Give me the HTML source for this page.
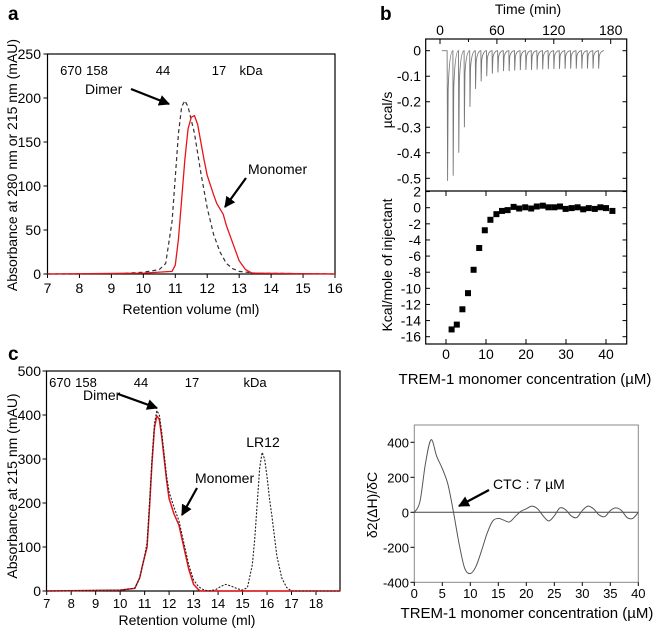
<!DOCTYPE html>
<html><head><meta charset="utf-8"><style>
body{margin:0;background:#fff;}
svg{display:block;font-family:"Liberation Sans",Arial,sans-serif;}
</style></head><body>
<svg id="fig" width="662" height="629" viewBox="0 0 662 629" xmlns="http://www.w3.org/2000/svg">
<defs><marker id="ah" viewBox="0 0 10 10" refX="9" refY="5" markerWidth="5" markerHeight="5" orient="auto"><path d="M0,0L10,5L0,10z" fill="#000"/></marker></defs>
<text x="8" y="20" font-size="19" font-weight="bold">a</text>
<text x="380" y="20" font-size="19" font-weight="bold">b</text>
<text x="8" y="360" font-size="19" font-weight="bold">c</text>
<g id="g"></g>
</svg>
<script>
// Panel a data
const aDimerX=[7,9,10,10.5,10.7,10.9,11.0,11.1,11.2,11.3,11.4,11.6,11.8,12.0,12.2,12.4,12.6,12.8,13.0,13.5,16];
const aDimerY=[0,0,2,5,12,60,110,160,190,197,190,160,115,75,45,25,12,6,3,1,0];
const aMonoX=[7,10,10.9,11.0,11.1,11.2,11.3,11.4,11.5,11.6,11.7,11.8,11.9,12.0,12.2,12.3,12.5,12.6,12.8,13.0,13.2,13.4,16];
const aMonoY=[0,1,3,10,40,85,130,165,178,180,170,150,130,112,90,80,68,55,35,15,5,1,0];
const aXTicks=[7,8,9,10,11,12,13,14,15,16];
const aYTicks=[0,50,100,150,200,250];
// Panel b data
const itcDepths=[-0.51,-0.49,-0.40,-0.30,-0.22,-0.15,-0.12,-0.10,-0.09,-0.085,-0.08,-0.08,-0.078,-0.076,-0.075,-0.075,-0.074,-0.073,-0.072,-0.072,-0.071,-0.071,-0.07,-0.07,-0.07,-0.07,-0.07,-0.07];
const itcStart=8, itcStep=5.9;
const bConc=[1.4,2.7,4.1,5.5,6.9,8.3,9.7,11.1,12.6,14.0,15.4,16.9,18.3,19.8,21.3,22.7,24.2,25.6,27.1,28.5,29.9,31.4,32.9,34.3,35.7,37.2,38.6,40.0,41.6];
const bHeat=[-15.1,-14.5,-12.6,-10.6,-7.7,-5.0,-2.8,-1.5,-0.8,-0.4,-0.3,0.1,-0.1,0.05,-0.1,0.15,0.25,0.05,0.05,0.15,-0.15,-0.05,0.05,-0.2,-0.05,-0.15,0.05,-0.05,-0.4];
const bTimeTicks=[0,60,120,180];
const bTopYTicks=[0,-0.1,-0.2,-0.3,-0.4,-0.5];
const bBotYTicks=[2,0,-2,-4,-6,-8,-10,-12,-14,-16];
const bConcTicks=[0,10,20,30,40];
// Panel c data
const cBlackX=[7,10,10.6,10.8,10.9,11.0,11.1,11.2,11.3,11.4,11.5,11.6,11.7,11.8,11.9,12.0,12.2,12.4,12.6,12.8,13.0,13.2,13.4,13.6,13.9,14.1,14.3,14.5,14.8,15.0,15.2,15.4,15.5,15.6,15.7,15.8,15.9,16.0,16.1,16.2,16.4,16.6,16.8,17.0,19];
const cBlackY=[0,2,6,30,55,80,110,200,300,380,410,400,360,310,260,225,190,160,110,60,25,10,3,0,3,10,15,12,5,2,8,60,120,200,280,315,300,260,210,170,80,30,8,0,0];
const cRedX=[7,10,10.6,10.8,10.9,11.0,11.1,11.2,11.3,11.4,11.5,11.6,11.7,11.8,11.9,12.0,12.2,12.4,12.6,12.8,13.0,13.2,13.3,19];
const cRedY=[0,2,6,30,55,78,100,190,290,370,398,390,350,300,250,210,175,150,100,50,15,3,0,0];
const cXTicks=[7,8,9,10,11,12,13,14,15,16,17,18];
const cYTicks=[0,100,200,300,400,500];
// Panel d data
const dX=[0,1,2,3,4,5,6,7,8,9,10,11,12,13,14,15,16,17,18,19,20,21,22,23,24,25,26,27,28,29,30,31,32,33,34,35,36,37,38,39,40];
const dY=[0,60,280,415,320,250,160,0,-180,-320,-350,-310,-220,-120,-50,-35,-45,-55,-25,5,20,35,20,-20,-50,-20,25,15,-20,-30,10,35,20,-15,-25,10,25,10,-30,-35,0];
const dXTicks=[0,5,10,15,20,25,30,35,40];
const dYTicks=[-400,-200,0,200,400];

const NS="http://www.w3.org/2000/svg";
const G=document.getElementById('g');
function el(tag,attrs,parent){const e=document.createElementNS(NS,tag);for(const k in attrs)e.setAttribute(k,attrs[k]);(parent||G).appendChild(e);return e;}
function txt(x,y,s,size,anchor,extra){const t=el('text',Object.assign({x:x,y:y,'font-size':size,'text-anchor':anchor||'middle'},extra||{}));t.textContent=s;return t;}
function lin(d0,d1,r0,r1){return v=>r0+(v-d0)/(d1-d0)*(r1-r0);}
function pathD(X,Y,sx,sy){return X.map((v,i)=>(i?'L':'M')+sx(v).toFixed(2)+','+sy(Y[i]).toFixed(2)).join('');}
function smoothD(X,Y,sx,sy){const P=X.map((v,i)=>[sx(v),sy(Y[i])]);let d='M'+P[0][0]+','+P[0][1];for(let i=0;i<P.length-1;i++){const p0=P[i-1]||P[i],p1=P[i],p2=P[i+1],p3=P[i+2]||P[i+1];d+='C'+(p1[0]+(p2[0]-p0[0])/6)+','+(p1[1]+(p2[1]-p0[1])/6)+' '+(p2[0]-(p3[0]-p1[0])/6)+','+(p2[1]-(p3[1]-p1[1])/6)+' '+p2[0]+','+p2[1];}return d;}
function arrow(x1,y1,x2,y2,name){const a=el('line',{x1,y1,x2,y2,stroke:'#000','stroke-width':2.2,'marker-end':'url(#ah)'});

}

// ---------- Panel a ----------
{const sx=lin(7,16,47.5,335),sy=lin(0,250,274,54);
const r=el('rect',{x:47.5,y:54,width:287.5,height:220,fill:'none',stroke:'#000','stroke-width':1.2});


aXTicks.forEach(v=>{el('line',{x1:sx(v),x2:sx(v),y1:274,y2:278,stroke:'#000'});const t=txt(sx(v),293,String(v),14);

});
aYTicks.forEach(v=>{el('line',{x1:43.5,x2:47.5,y1:sy(v),y2:sy(v),stroke:'#000'});const t=txt(41,sy(v)+5,String(v),14,'end');

});
let t=txt(191,314,'Retention volume (ml)',14);


t=txt(0,0,'Absorbance at 280 nm or 215 nm (mAU)',14,'middle',{transform:'translate(17,165) rotate(-90)'});


[['670',71],['158',97],['44',163],['17',219],['kDa',251]].forEach(k=>{const q=txt(k[1],75,k[0],13);

});
let p=el('path',{d:pathD(aDimerX,aDimerY,sx,sy),fill:'none',stroke:'#333','stroke-width':1.2,'stroke-dasharray':'4,3'});


p=el('path',{d:pathD(aMonoX,aMonoY,sx,sy),fill:'none',stroke:'#e8141b','stroke-width':1.3,'stroke-linejoin':'round'});


t=txt(85,94,'Dimer',14,'start');


arrow(131,89,169,104,'a-dimer-arrow');
t=txt(248,174,'Monomer',14,'start');


arrow(246,178,225,207,'a-monomer-arrow');}

// ---------- Panel b top ----------
{const sx=lin(0,180,440,610.7),sy=lin(0,-0.5,50.7,178.3);
const r=el('rect',{x:425.7,y:39,width:201,height:305,fill:'none',stroke:'#000','stroke-width':1.2});


el('line',{x1:425.7,x2:626.7,y1:191,y2:191,stroke:'#000','stroke-width':1.2});
bTimeTicks.forEach(v=>{el('line',{x1:sx(v),x2:sx(v),y1:39,y2:44,stroke:'#000'});const t=txt(sx(v),35,String(v),14);

});
for(let m=30;m<=180;m+=60)el('line',{x1:sx(m),x2:sx(m),y1:39,y2:42,stroke:'#000'});
bTopYTicks.forEach(v=>{el('line',{x1:425.7,x2:430,y1:sy(v),y2:sy(v),stroke:'#000'});el('line',{x1:622.5,x2:626.7,y1:sy(v),y2:sy(v),stroke:'#000'});const t=txt(421,sy(v)+5,String(v),14,'end');

});
let t=txt(528,14,'Time (min)',14);


t=txt(0,0,'µcal/s',14,'middle',{transform:'translate(392,110) rotate(-90)'});


let d='M'+sx(2)+','+sy(0)+'L'+sx(itcStart-0.5)+','+sy(0);
itcDepths.forEach((v,i)=>{const t0=itcStart+i*itcStep;d+='L'+sx(t0)+','+sy(v)+'L'+sx(t0+0.6)+','+sy(v*0.3)+'Q'+sx(t0+2)+','+sy(0)+' '+sx(t0+itcStep-0.3)+','+sy(0);});
const p=el('path',{d:d,fill:'none',stroke:'#777','stroke-width':0.9});

}

// ---------- Panel b bottom ----------
{const sx=lin(0,40,446,606),sy=lin(0,-16,207.7,336.7);
bBotYTicks.forEach(v=>{el('line',{x1:425.7,x2:430,y1:sy(v),y2:sy(v),stroke:'#000'});el('line',{x1:622.5,x2:626.7,y1:sy(v),y2:sy(v),stroke:'#000'});const t=txt(421,sy(v)+5,String(v),14,'end');

});
bConcTicks.forEach(v=>{el('line',{x1:sx(v),x2:sx(v),y1:339,y2:344,stroke:'#000'});el('line',{x1:sx(v),x2:sx(v),y1:191,y2:196,stroke:'#000'});const t=txt(sx(v),359,String(v),14);

});
bConc.forEach((c,i)=>{const q=el('rect',{x:sx(c)-3,y:sy(bHeat[i])-3,width:6,height:6,fill:'#000'});

});
let t=txt(0,0,'Kcal/mole of injectant',14,'middle',{transform:'translate(392,265) rotate(-90)'});


t=txt(525,384,'TREM-1 monomer concentration (µM)',15);

}

// ---------- Panel c ----------
{const sx=lin(7,18,46.7,316),sy=lin(0,500,591,371);
const r=el('rect',{x:46.5,y:371,width:293.5,height:220,fill:'none',stroke:'#000','stroke-width':1.2});


cXTicks.forEach(v=>{el('line',{x1:sx(v),x2:sx(v),y1:591,y2:595,stroke:'#000'});const t=txt(sx(v),608,String(v),13);

});
cYTicks.forEach(v=>{el('line',{x1:42.5,x2:46.5,y1:sy(v),y2:sy(v),stroke:'#000'});const t=txt(41,sy(v)+5,String(v),14,'end');

});
let t=txt(187,625,'Retention volume (ml)',14);


t=txt(0,0,'Absorbance at  215 nm (mAU)',14,'middle',{transform:'translate(17,486) rotate(-90)'});


[['670',60],['158',86],['44',141],['17',192],['kDa',255]].forEach(k=>{const q=txt(k[1],387,k[0],13);

});
let p=el('path',{d:pathD(cRedX,cRedY,sx,sy),fill:'none',stroke:'#e8141b','stroke-width':1.5,'stroke-linejoin':'round'});


p=el('path',{d:pathD(cBlackX,cBlackY,sx,sy),fill:'none',stroke:'#222','stroke-width':1.1,'stroke-dasharray':'2,1.5','stroke-linejoin':'round'});


t=txt(83,400,'Dimer',14,'start');


arrow(118,394,157,408,'c-dimer-arrow');
t=txt(195,483,'Monomer',14,'start');


arrow(197,488,182,515,'c-monomer-arrow');
t=txt(263,447,'LR12',14);

}

// ---------- Panel d ----------
{const sx=lin(0,40,414.3,638.3),sy=lin(0,400,512.3,442.3);
const r=el('rect',{x:414.3,y:425,width:224,height:157.3,fill:'none',stroke:'#888','stroke-width':1});


el('line',{x1:414.3,x2:638.3,y1:sy(0),y2:sy(0),stroke:'#444','stroke-width':1});
dXTicks.forEach(v=>{el('line',{x1:sx(v),x2:sx(v),y1:582.3,y2:586,stroke:'#000'});const t=txt(sx(v),598,String(v),13);

});
dYTicks.forEach(v=>{el('line',{x1:410.5,x2:414.3,y1:sy(v),y2:sy(v),stroke:'#000'});const t=txt(409,sy(v)+5,String(v),13,'end');

});
const p=el('path',{d:smoothD(dX,dY,sx,sy),fill:'none',stroke:'#555','stroke-width':1});


let t=txt(527,618,'TREM-1 monomer concentration (µM)',15);


t=txt(0,0,'δ2(ΔH)/δC',14,'middle',{transform:'translate(377,505) rotate(-90)'});


t=txt(493,489,'CTC : 7 µM',14,'start');


arrow(489,490,459,506,'d-ctc-arrow');}
</script>
</body></html>
